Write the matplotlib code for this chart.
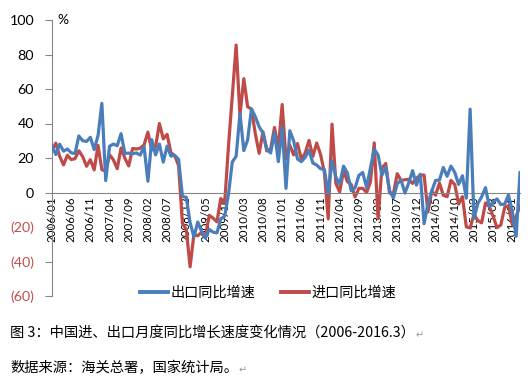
import matplotlib
matplotlib.use("Agg")
import matplotlib.pyplot as plt
from matplotlib.lines import Line2D

# ---------------- data ----------------
months = [f"{y}/{m:02d}" for y in range(2006, 2017) for m in range(1, 13)][:123]

exports = [
    27, 22, 28, 24, 25.2, 23.0, 22.6, 32.8, 30.0, 29.6, 32.0, 24.9,          # 2006
    33.0, 51.7, 6.9, 26.8, 28.1, 27.1, 34.1, 22.7, 22.8, 22.5, 22.9, 21.7,  # 2007
    26.6, 6.5, 30.6, 21.8, 28.1, 17.6, 26.9, 21.1, 21.5, 19.2, -2.2, -2.8,  # 2008
    -17.5, -25.7, -17.1, -22.6, -26.4, -21.4, -23.0, -23.4, -15.2, -13.8, -1.2, 17.7,  # 2009
    21.0, 45.7, 24.3, 30.5, 48.5, 43.9, 38.1, 34.4, 25.1, 22.9, 34.9, 17.9,  # 2010
    37.7, 2.4, 35.8, 29.9, 19.4, 17.9, 20.4, 24.5, 17.1, 15.9, 13.8, 13.4,  # 2011
    -0.5, 18.4, 8.9, 4.9, 15.3, 11.3, 1.0, 2.7, 9.9, 11.6, 2.9, 14.1,       # 2012
    25.0, 21.8, 10.0, 14.7, 1.0, -3.1, 5.1, 7.2, -0.3, 5.6, 12.7, 4.3,      # 2013
    10.6, -18.1, -6.6, 0.9, 7.0, 7.2, 14.5, 9.4, 15.3, 11.6, 4.7, 9.7,      # 2014
    -3.3, 48.3, -15.0, -6.4, -2.5, 2.8, -8.3, -5.5, -3.7, -6.9, -6.8, -1.4, # 2015
    -11.2, -25.4, 11.5,                                                     # 2016
]

imports = [
    24.7, 28.6, 21.0, 16.0, 21.6, 19.1, 19.6, 24.2, 20.8, 15.2, 19.0, 13.1,  # 2006
    27.3, 13.2, 12.5, 21.9, 18.9, 13.8, 25.8, 19.9, 15.4, 25.5, 25.2, 25.7,  # 2007
    27.6, 35.0, 24.6, 26.6, 40.0, 31.1, 33.7, 23.1, 21.3, 15.6, -17.9, -21.3,  # 2008
    -43.1, -24.1, -25.1, -23.0, -25.2, -13.2, -14.9, -17.0, -3.5, -6.4, 26.7, 55.9,  # 2009
    85.5, 44.7, 66.0, 49.7, 48.3, 34.1, 22.7, 35.2, 24.1, 25.3, 37.7, 25.6,  # 2010
    51.0, 19.4, 27.3, 21.8, 28.4, 19.3, 22.9, 30.2, 20.9, 28.7, 22.1, 11.8,  # 2011
    -15.3, 39.6, 5.3, 0.3, 12.7, 6.3, 4.7, -2.6, 2.4, 2.4, 0.0, 6.0,         # 2012
    28.8, -15.2, 14.1, 16.8, -0.3, -0.7, 10.9, 7.0, 7.4, 7.6, 5.3, 8.3,      # 2013
    10.0, 10.1, -11.3, 0.8, -1.6, 5.5, -1.6, -2.4, 7.0, 4.6, -6.7, -2.4,     # 2014
    -19.9, -20.5, -12.7, -16.2, -17.6, -6.1, -8.1, -13.8, -20.4, -18.8, -8.7, -7.6,  # 2015
    -18.8, -13.8, -7.6,                                                      # 2016
]

yticks = [100, 80, 60, 40, 20, 0, -20, -40, -60]
ytick_labels = ["100", "80", "60", "40", "20", "0", "(20)", "(40)", "(60)"]
series_names = ["出口同比增速", "进口同比增速"]
caption = "图 3：中国进、出口月度同比增长速度变化情况（2006-2016.3）"
source = "数据来源：海关总署，国家统计局。"

# ---------------- style ----------------
BLUE = "#4A7EBB"
RED = "#BE4B48"
NEG_RED = "#C0504D"
AXIS = "#868686"
CJK = ["Noto Sans CJK SC", "DejaVu Sans"]
NUM = ["Lato", "DejaVu Sans"]

W, H = 528, 385
fig = plt.figure(figsize=(W / 100, H / 100), dpi=100)
fig.patch.set_facecolor("white")

x0, x1, ytop, ybot = 52, 520, 20, 296
ax = fig.add_axes([x0 / W, 1 - ybot / H, (x1 - x0) / W, (ybot - ytop) / H])

x = list(range(len(months)))
ax.plot(x, exports, color=BLUE, lw=2.3, solid_joinstyle="round", zorder=3)
ax.plot(x, imports, color=RED, lw=2.3, solid_joinstyle="round", zorder=2)

ax.set_xlim(0, len(months) - 1)
ax.set_ylim(-60, 100)

for s in ["top", "right"]:
    ax.spines[s].set_visible(False)
ax.spines["left"].set_color(AXIS)
ax.spines["left"].set_linewidth(0.8)
ax.spines["bottom"].set_position(("data", 0))
ax.spines["bottom"].set_color(AXIS)
ax.spines["bottom"].set_linewidth(0.8)

ax.set_yticks(yticks)
ax.set_yticklabels(ytick_labels, fontfamily=NUM, fontsize=10.3)
for lab, v in zip(ax.get_yticklabels(), yticks):
    lab.set_color(NEG_RED if v < 0 else "black")
ax.tick_params(axis="y", direction="out", length=5, width=0.8, color=AXIS, pad=8)

xt = list(range(0, len(months), 5))
ax.set_xticks(xt)
ax.set_xticklabels([months[i] for i in xt], rotation=90, fontfamily=NUM, fontsize=8.3)
ax.tick_params(axis="x", length=0, pad=3)

fig.text(57 / W, 1 - 20 / H, "%", fontsize=10, fontfamily=NUM, va="center", ha="left")

handles = [Line2D([], [], color=BLUE, lw=2.8), Line2D([], [], color=RED, lw=2.8)]
fig.legend(handles, series_names, loc="center", bbox_to_anchor=(268 / W, 1 - 293 / H),
           ncol=2, frameon=False, prop={"family": CJK, "size": 10.2},
           handlelength=2.0, handletextpad=0.15, columnspacing=1.8)

t1 = fig.text(10 / W, 1 - 333 / H, caption, fontsize=10.3, fontfamily=CJK, va="center", ha="left")
t2 = fig.text(10 / W, 1 - 368 / H, source, fontsize=10.3, fontfamily=CJK, va="center", ha="left")

fig.canvas.draw()
r = fig.canvas.get_renderer()
for t, yc in [(t1, 333), (t2, 368)]:
    bb = t.get_window_extent(renderer=r)
    fig.text((bb.x1 + 1) / W, 1 - (yc + 2) / H, "↵", fontsize=7, color="#999999",
             fontfamily="DejaVu Sans", va="center", ha="left")

fig.savefig("out.png", dpi=100)
